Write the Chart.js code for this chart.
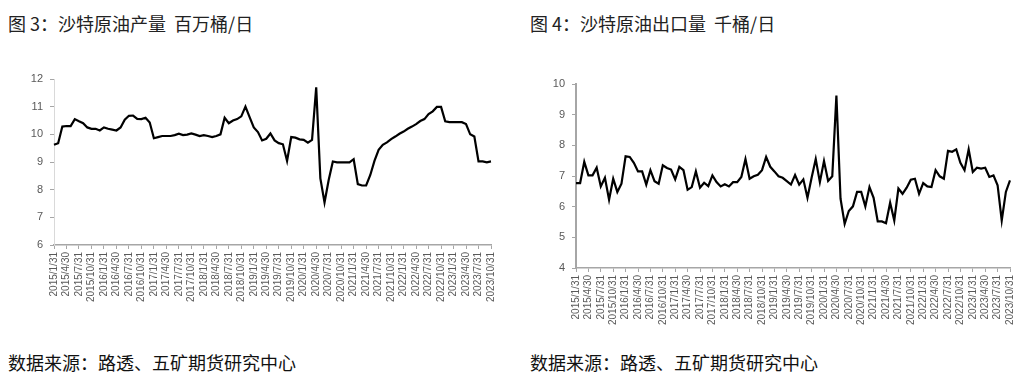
<!DOCTYPE html>
<html>
<head>
<meta charset="utf-8">
<script src="https://cdn.jsdelivr.net/npm/chart.js@4.4.1/dist/chart.umd.min.js"></script>
<style>
  body { margin: 0; width: 1030px; height: 385px; background: #fff; position: relative; overflow: hidden; }
  .title { position: absolute; top: 10px; font-family: "Noto Sans CJK SC", sans-serif; font-size: 18px; color: #222; white-space: nowrap; }
  .source { position: absolute; top: 349px; font-family: "Noto Sans CJK SC", sans-serif; font-size: 18px; color: #111; white-space: nowrap; }
  canvas { position: absolute; }
</style>
</head>
<body>
<div class="title" style="left:8px">图 3：沙特原油产量&nbsp; 百万桶/日</div>
<div class="title" style="left:530px">图 4：沙特原油出口量&nbsp; 千桶/日</div>
<canvas id="chart1" width="515" height="260" style="left:0px;top:60px"></canvas>
<canvas id="chart2" width="510" height="285" style="left:520px;top:60px"></canvas>
<div class="source" style="left:8px">数据来源：路透、五矿期货研究中心</div>
<div class="source" style="left:530px">数据来源：路透、五矿期货研究中心</div>
<script>
// month-end dates, 2015/1 to 2023/10
const months = [];
for (let y = 2015; y <= 2023; y++) {
    for (let m = 1; m <= 12; m++) {
        if (y === 2023 && m > 10) break;
        months.push(y + '/' + m + '/' + new Date(y, m, 0).getDate());
    }
}

// 沙特原油产量 (百万桶/日)
const production = [
    9.62, 9.68, 10.28, 10.30, 10.30, 10.55, 10.47, 10.40, 10.25, 10.20, 10.20, 10.14,
    10.25, 10.20, 10.17, 10.14, 10.25, 10.53, 10.67, 10.68, 10.56, 10.55, 10.60, 10.43,
    9.86, 9.90, 9.94, 9.94, 9.94, 9.97, 10.02, 9.97, 9.99, 10.03, 9.99, 9.94,
    9.97, 9.94, 9.90, 9.94, 10.00, 10.60, 10.40, 10.50, 10.55, 10.65, 11.00, 10.62,
    10.25, 10.08, 9.78, 9.84, 10.03, 9.78, 9.68, 9.64, 9.04, 9.90, 9.88, 9.82,
    9.80, 9.70, 9.80, 11.70, 8.41, 7.54, 8.35, 9.02, 8.99, 8.99, 8.99, 8.99,
    9.10, 8.20, 8.15, 8.15, 8.53, 9.04, 9.44, 9.62, 9.71, 9.83, 9.92, 10.02,
    10.10, 10.20, 10.28, 10.37, 10.48, 10.55, 10.73, 10.83, 10.99, 10.99, 10.47, 10.44,
    10.44, 10.44, 10.44, 10.37, 10.00, 9.92, 9.02, 9.02, 8.99, 9.02
];

// 沙特原油出口量
const exports = [
    6.77, 6.77, 7.46, 7.02, 7.02, 7.27, 6.66, 6.94, 6.23, 6.91, 6.48, 6.75,
    7.64, 7.62, 7.43, 7.15, 7.15, 6.72, 7.19, 6.83, 6.75, 7.35, 7.26, 7.21,
    6.89, 7.30, 7.19, 6.55, 6.64, 7.15, 6.62, 6.78, 6.67, 7.02, 6.80, 6.66,
    6.73, 6.66, 6.80, 6.80, 6.97, 7.55, 6.91, 6.99, 7.04, 7.19, 7.62, 7.30,
    7.15, 6.99, 6.94, 6.83, 6.72, 7.03, 6.72, 6.89, 6.29, 6.94, 7.55, 6.80,
    7.49, 6.84, 6.99, 9.62, 6.26, 5.44, 5.86, 6.01, 6.48, 6.48, 6.01, 6.64,
    6.29, 5.52, 5.52, 5.46, 6.13, 5.55, 6.59, 6.42, 6.62, 6.88, 6.91, 6.42,
    6.77, 6.66, 6.64, 7.19, 6.99, 6.91, 7.82, 7.79, 7.87, 7.43, 7.19, 7.87,
    7.13, 7.27, 7.24, 7.27, 6.97, 7.02, 6.70, 5.55, 6.48, 6.86
];

const tickFont = { family: 'Liberation Sans, Arial, sans-serif', size: 10 };

function makeConfig(values, yMin, yMax, yWidth, xHeight, pad, yBorder) {
    return {
        type: 'line',
        data: {
            labels: months,
            datasets: [{
                data: values,
                borderColor: '#000',
                borderWidth: 2.2,
                pointRadius: 0,
                tension: 0,
                fill: false
            }]
        },
        options: {
            responsive: false,
            animation: false,
            layout: { padding: pad },
            plugins: { legend: { display: false }, tooltip: { enabled: false } },
            scales: {
                x: {
                    offset: false,
                    grid: {
                        drawOnChartArea: false,
                        tickLength: 4,
                        color: ctx => ctx.index % 3 === 0 ? '#a6a6a6' : 'rgba(0,0,0,0)'
                    },
                    border: { display: true, color: '#a6a6a6', width: 1.5 },
                    ticks: {
                        autoSkip: false,
                        minRotation: 90,
                        maxRotation: 90,
                        padding: 3,
                        color: '#595959',
                        font: tickFont,
                        callback: (val, i) => i % 3 === 0 ? months[i] : ''
                    },
                    afterFit: scale => { scale.height = xHeight; }
                },
                y: {
                    min: yMin,
                    max: yMax,
                    grid: { drawOnChartArea: false, tickLength: 4, color: '#a6a6a6' },
                    border: yBorder,
                    ticks: {
                        stepSize: 1,
                        padding: 7,
                        color: '#595959',
                        font: { family: 'Liberation Sans, Arial, sans-serif', size: 11 }
                    },
                    afterFit: scale => { scale.width = yWidth; }
                }
            }
        }
    };
}

new Chart(document.getElementById('chart1'),
    makeConfig(production, 6, 12, 54, 75, { top: 19, right: 24, left: 0, bottom: 0 },
        { display: true, color: '#d9d9d9', width: 1 }));

new Chart(document.getElementById('chart2'),
    makeConfig(exports, 4, 10, 56, 77, { top: 24, right: 20, left: 0, bottom: 0 },
        { display: true, color: '#a6a6a6', width: 2 }));
</script>
</body>
</html>
